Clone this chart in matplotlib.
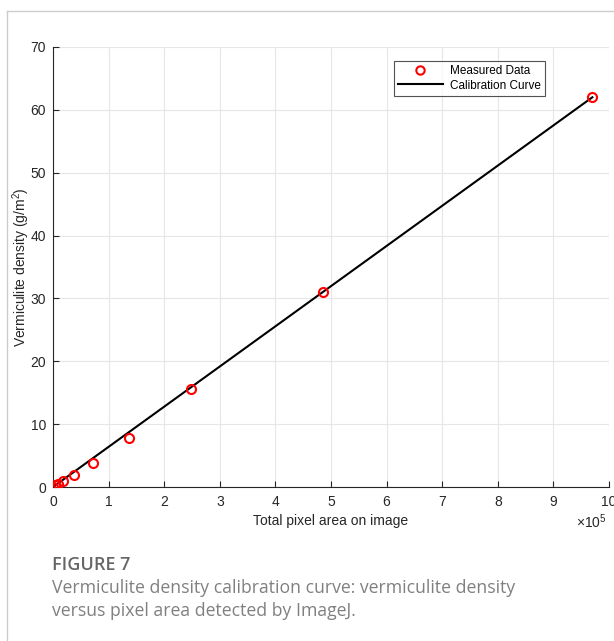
import matplotlib
matplotlib.use("Agg")
import matplotlib.pyplot as plt
from matplotlib.lines import Line2D
from matplotlib.ticker import FuncFormatter

# measured points (pixel area, density g/m2)
pixel_area = [0, 4500, 9000, 18000, 37000, 72000, 136000, 248000, 486000, 970000]
density = [0, 0.25, 0.5, 1.0, 1.95, 3.9, 7.8, 15.6, 31.0, 62.0]

# calibration line end points
curve_x = [0, 970000]
curve_y = [0, 62.0]

x_ticks = [0, 1e5, 2e5, 3e5, 4e5, 5e5, 6e5, 7e5, 8e5, 9e5, 1e6]
y_ticks = [0, 10, 20, 30, 40, 50, 60, 70]

plt.rcParams['font.family'] = ['Liberation Sans', 'DejaVu Sans']
plt.rcParams['mathtext.fontset'] = 'custom'
plt.rcParams['mathtext.rm'] = 'Liberation Sans'
plt.rcParams['mathtext.it'] = 'Liberation Sans:italic'

fig = plt.figure(figsize=(6.14, 6.41), dpi=100)
ax = fig.add_axes([0.0863, 0.2402, 0.9056, 0.6865])

ax.plot(curve_x, curve_y, color='black', lw=1.5, zorder=3)
ax.plot(pixel_area, density, 'o', mfc='none', mec='red', mew=1.5, ms=6.5, zorder=4)

ax.set_xlim(0, 1e6)
ax.set_ylim(0, 70)
ax.set_xticks(x_ticks)
ax.set_yticks(y_ticks)
ax.xaxis.set_major_formatter(FuncFormatter(lambda v, p: '%g' % (v / 1e5)))
ax.text(0.995, -0.058, r'$\times$10$^5$', transform=ax.transAxes, ha='right', va='top',
        fontsize=10, color='#262626', clip_on=False)

ax.grid(True, color='#e6e6e6', lw=0.8)
ax.set_axisbelow(True)
for s in ['top', 'right']:
    ax.spines[s].set_visible(False)
for s in ['left', 'bottom']:
    ax.spines[s].set_color('#262626')
    ax.spines[s].set_linewidth(0.8)
ax.tick_params(direction='in', length=4, width=0.8, labelsize=10,
               colors='#262626', pad=5)
ax.tick_params(axis='x', pad=6)

ax.set_xlabel('Total pixel area on image', fontsize=10, color='#262626', labelpad=3)
ax.set_ylabel('Vermiculite density (g/m$^2$)', fontsize=10, color='#262626')
ax.yaxis.set_label_coords(-0.038, 0.5)

handles = [Line2D([], [], ls='none', marker='o', mfc='none', mec='red', mew=1.5, ms=6),
           Line2D([], [], color='black', lw=1.5)]
leg = ax.legend(handles, ['Measured Data', 'Calibration Curve'], loc='upper left',
                bbox_to_anchor=(0.6128, 0.968), fontsize=8.5,
                frameon=True, fancybox=False, edgecolor='#262626',
                borderpad=0.35, labelspacing=0.2, handlelength=3.8, handletextpad=0.6,
                borderaxespad=0)
leg.get_frame().set_linewidth(0.8)

# outer page border
fig.add_artist(Line2D([7 / 614, 1], [1 - 11 / 641, 1 - 11 / 641], color='#cccccc', lw=1,
                      transform=fig.transFigure))
fig.add_artist(Line2D([7 / 614, 7 / 614], [0, 1 - 11 / 641], color='#cccccc', lw=1,
                      transform=fig.transFigure))

# caption
fig.text(52 / 614, 1 - 565 / 641, 'FIGURE 7', fontsize=13, fontweight='semibold',
         color='#666666', family=['Open Sans', 'DejaVu Sans'], va='center')
fig.text(52 / 614, 1 - 588 / 641, 'Vermiculite density calibration curve: vermiculite density',
         fontsize=12.7, color='#808080', family=['Open Sans', 'DejaVu Sans'], va='center')
fig.text(52 / 614, 1 - 611 / 641, 'versus pixel area detected by ImageJ.',
         fontsize=12.7, color='#808080', family=['Open Sans', 'DejaVu Sans'], va='center')

fig.savefig('out.png', dpi=100)
